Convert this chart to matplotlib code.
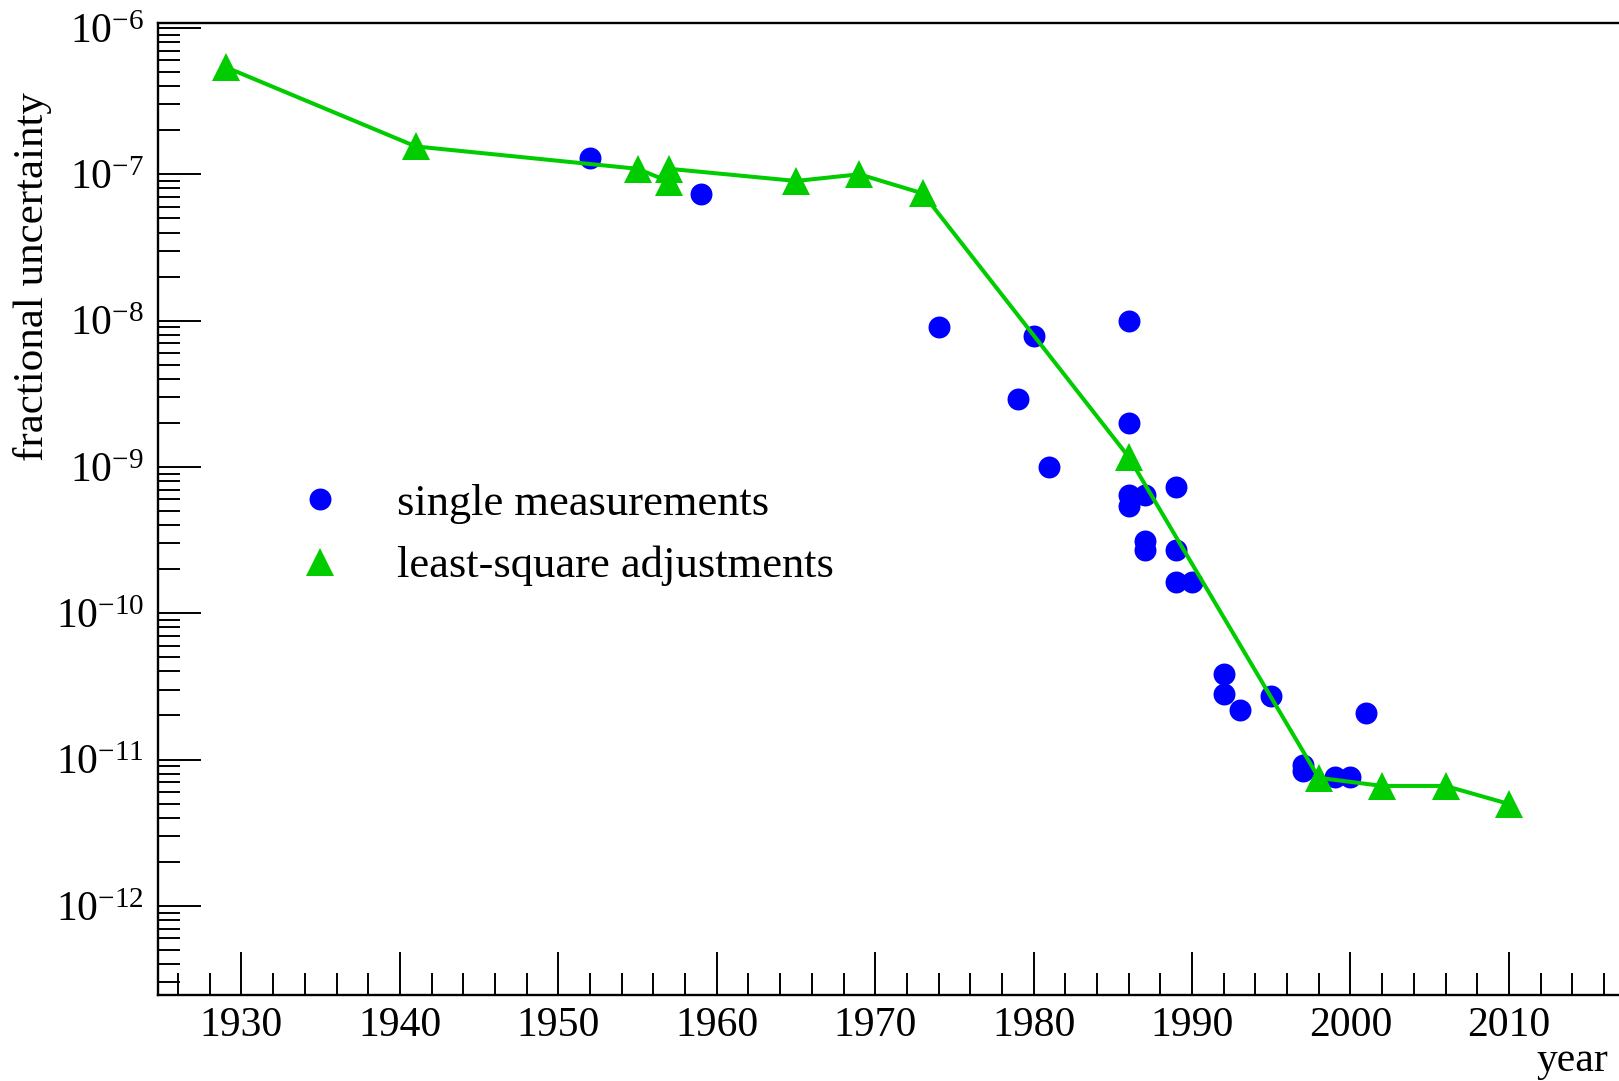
import matplotlib
matplotlib.use("Agg")
import matplotlib.pyplot as plt
from matplotlib.ticker import FixedLocator, LogLocator, NullFormatter, FuncFormatter
import numpy as np

# ---- data ----
single_years = [1952, 1959, 1974, 1979, 1980, 1981, 1986, 1986, 1986, 1986, 1987, 1987, 1987,
                1989, 1989, 1989, 1990, 1992, 1992, 1993, 1995, 1997, 1997, 1999, 2000, 2001]
single_vals = [1.29e-7, 7.3e-8, 9.1e-9, 2.9e-9, 7.8e-9, 1.0e-9, 1.0e-8, 1.99e-9, 6.4e-10, 5.4e-10,
               6.4e-10, 3.1e-10, 2.7e-10, 7.3e-10, 2.7e-10, 1.63e-10, 1.63e-10, 3.84e-11, 2.8e-11,
               2.18e-11, 2.72e-11, 9.2e-12, 8.3e-12, 7.6e-12, 7.6e-12, 2.09e-11]

lsq_years = [1929, 1941, 1955, 1957, 1957, 1965, 1969, 1973, 1986, 1998, 2002, 2006, 2010]
lsq_vals = [5.4e-7, 1.55e-7, 1.09e-7, 8.9e-8, 1.09e-7, 9.0e-8, 1.0e-7, 7.4e-8, 1.17e-9,
            7.5e-12, 6.6e-12, 6.6e-12, 4.97e-12]

x_major = [1930, 1940, 1950, 1960, 1970, 1980, 1990, 2000, 2010]

# ---- style ----
plt.rcParams['font.family'] = ['Liberation Serif', 'DejaVu Serif']
plt.rcParams['mathtext.fontset'] = 'custom'
plt.rcParams['mathtext.rm'] = 'Liberation Serif'
plt.rcParams['mathtext.it'] = 'Liberation Serif:italic'
plt.rcParams['mathtext.bf'] = 'Liberation Serif:bold'

W, H = 1619, 1081
fig = plt.figure(figsize=(W / 100, H / 100), dpi=100)
left, right = 158 / W, 1.0
bottom, top = 1 - 995.4 / H, 1 - 22.7 / H
ax = fig.add_axes([left, bottom, right - left, top - bottom])

green = '#00CC00'
blue = '#0000FF'

ax.plot(lsq_years, lsq_vals, color=green, lw=2.9, marker='^', ms=19.5,
        markeredgewidth=0, label='least-square adjustments', zorder=3)
ax.plot(single_years, single_vals, linestyle='none', color=blue, marker='o', ms=15.8,
        markeredgewidth=0, label='single measurements', zorder=2)

ax.set_yscale('log')
ax.set_xlim(1924.73, 2016.95)
ax.set_ylim(10 ** -12.612, 10 ** -5.964)

for s in ['left', 'bottom', 'top']:
    ax.spines[s].set_linewidth(1.7)
ax.spines['right'].set_visible(False)

ax.xaxis.set_major_locator(FixedLocator(x_major))
ax.xaxis.set_minor_locator(FixedLocator(np.arange(1926, 2017, 2)))
ax.yaxis.set_major_locator(LogLocator(base=10, numticks=20))
ax.yaxis.set_minor_locator(LogLocator(base=10, subs=np.arange(2, 10), numticks=20))
ax.yaxis.set_minor_formatter(NullFormatter())
ax.yaxis.set_major_formatter(FuncFormatter(lambda v, p: r'$10^{%d}$' % int(round(np.log10(v)))))

ax.tick_params(axis='both', which='both', direction='in', top=False, right=False, width=1.4)
ax.tick_params(axis='both', which='major', length=31)
ax.tick_params(axis='both', which='minor', length=16)
ax.tick_params(axis='x', which='major', labelsize=30, pad=8)
ax.tick_params(axis='y', which='major', labelsize=30, pad=10)

fig.text(33 / W, 1 - 92 / H, 'fractional uncertainty', fontsize=31, rotation=90,
         ha='center', va='top')
fig.text(1608 / W, 1 - 1061 / H, 'year', fontsize=30, ha='right', va='center')

handles, labels = ax.get_legend_handles_labels()
leg = ax.legend(handles[::-1], labels[::-1], loc='upper left',
                bbox_to_anchor=((276 - 158) / (W - 158), (995.4 - 483.4) / (995.4 - 22.7)),
                frameon=False, fontsize=32, numpoints=1, handlelength=2.0,
                handletextpad=0.72, borderpad=0, borderaxespad=0, labelspacing=0.5)
for h in leg.legend_handles:
    h.set_linestyle('none')

fig.savefig('out.png', dpi=100)
